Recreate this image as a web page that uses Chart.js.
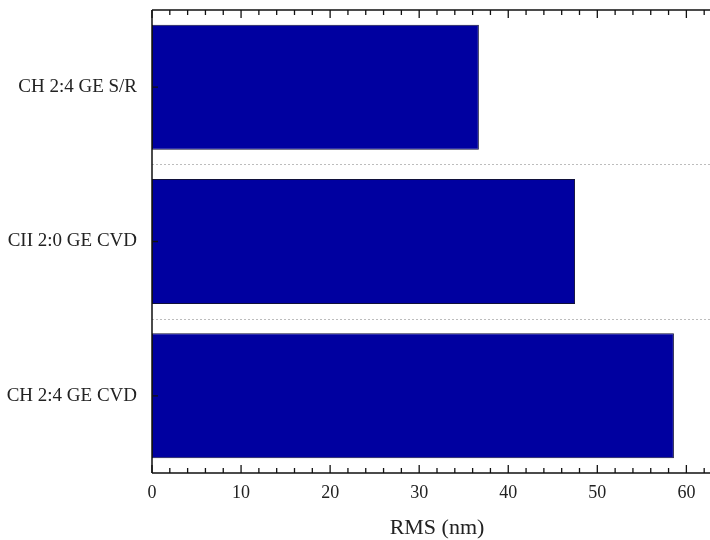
<!DOCTYPE html>
<html>
<head>
<meta charset="utf-8">
<script src="https://cdn.jsdelivr.net/npm/chart.js@4/dist/chart.umd.min.js"></script>
<style>
  html, body { margin: 0; padding: 0; overflow: hidden; background: #fff; }
</style>
</head>
<body>
<canvas id="rmsChart" width="722" height="540"></canvas>
<script>
// RMS roughness per sample
const samples = ["CH 2:4 GE S/R", "CII 2:0 GE CVD", "CH 2:4 GE CVD"];
const rmsValues = [36.7, 47.5, 58.6];
const xMajorStep = 10;
const xMinorStep = 2;

// axes frame, inward ticks and dotted separators
const frame = {
  id: "frame",
  afterDraw(chart) {
    const ctx = chart.ctx;
    const a = chart.chartArea;
    const x = chart.scales.x;
    const y = chart.scales.y;
    ctx.save();

    // dotted lines between categories
    ctx.strokeStyle = "#bdbdbd";
    ctx.lineWidth = 1;
    ctx.setLineDash([2, 2]);
    for (let i = 0; i < samples.length - 1; i++) {
      const ym = Math.round((y.getPixelForValue(i) + y.getPixelForValue(i + 1)) / 2) + 0.5;
      ctx.beginPath();
      ctx.moveTo(a.left, ym);
      ctx.lineTo(a.right, ym);
      ctx.stroke();
    }
    ctx.setLineDash([]);

    ctx.strokeStyle = "#111";
    ctx.lineWidth = 1.5;
    ctx.beginPath();
    ctx.moveTo(a.left, a.top);
    ctx.lineTo(a.right, a.top);
    ctx.moveTo(a.left, a.bottom);
    ctx.lineTo(a.right, a.bottom);
    ctx.moveTo(a.left, a.top);
    ctx.lineTo(a.left, a.bottom);
    ctx.stroke();

    ctx.lineWidth = 1.3;
    ctx.beginPath();
    x.ticks.forEach(t => {
      const px = x.getPixelForValue(t.value);
      const len = t.value % xMajorStep === 0 ? 8 : 5;
      ctx.moveTo(px, a.bottom);
      ctx.lineTo(px, a.bottom - len);
      ctx.moveTo(px, a.top);
      ctx.lineTo(px, a.top + len);
    });
    samples.forEach((s, i) => {
      const py = y.getPixelForValue(i);
      ctx.moveTo(a.left, py);
      ctx.lineTo(a.left + 6, py);
    });
    ctx.stroke();
    ctx.restore();
  }
};

new Chart(document.getElementById("rmsChart"), {
  type: "bar",
  data: {
    labels: samples,
    datasets: [{
      data: rmsValues,
      backgroundColor: "#0000a0",
      borderColor: "#10103a",
      borderWidth: 1,
      borderSkipped: false,
      categoryPercentage: 0.9,
      barPercentage: 0.9
    }]
  },
  options: {
    indexAxis: "y",
    responsive: false,
    animation: false,
    layout: { padding: { top: 10, left: 0, right: 0, bottom: 0 } },
    plugins: {
      legend: { display: false },
      tooltip: { enabled: false }
    },
    scales: {
      x: {
        min: 0,
        max: 64,
        grid: { display: false, drawTicks: false },
        border: { display: false },
        ticks: {
          stepSize: xMinorStep,
          autoSkip: false,
          maxRotation: 0,
          padding: 9,
          color: "#222",
          font: { family: "Liberation Serif", size: 18 },
          callback: v => (v % xMajorStep === 0 ? v : "")
        },
        title: {
          display: true,
          text: "RMS (nm)",
          color: "#222",
          font: { family: "Liberation Serif", size: 22, lineHeight: 1.1 },
          padding: { top: 0, bottom: 0 }
        },
        afterFit: s => {
          s.height = 67;
          s.paddingLeft = 0;
          s.paddingRight = 0;
        }
      },
      y: {
        grid: { display: false, drawTicks: false },
        border: { display: false },
        ticks: {
          padding: 15,
          color: "#222",
          font: { family: "Liberation Serif", size: 19 }
        },
        afterFit: s => {
          s.width = 152;
          s.paddingTop = 0;
          s.paddingBottom = 0;
        }
      }
    }
  },
  plugins: [frame]
});
</script>
</body>
</html>
